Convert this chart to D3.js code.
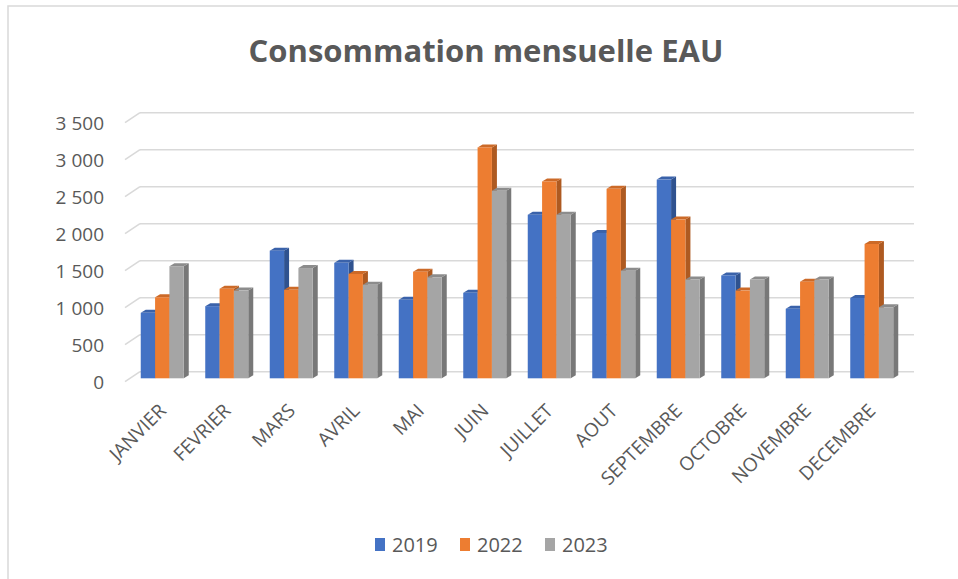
<!DOCTYPE html>
<html>
<head>
<meta charset="utf-8">
<script src="https://cdn.jsdelivr.net/npm/d3@7"></script>
<style>
    body { margin: 0; background: #fff; }
    #chart { width: 958px; height: 579px; }
    text { font-family: "Open Sans", "Noto Sans", sans-serif; fill: #595959; }
</style>
</head>
<body>
<div id="chart"></div>
<script>

const months = ["JANVIER", "FEVRIER", "MARS", "AVRIL", "MAI", "JUIN", "JUILLET", "AOUT", "SEPTEMBRE", "OCTOBRE", "NOVEMBRE", "DECEMBRE"];
const years = ["2019", "2022", "2023"];
const conso2019 = [885, 975, 1725, 1560, 1060, 1155, 2210, 1965, 2685, 1390, 940, 1085];
const conso2022 = [1095, 1210, 1195, 1410, 1440, 3120, 2660, 2560, 2145, 1185, 1305, 1815];
const conso2023 = [1515, 1185, 1490, 1265, 1365, 2535, 2210, 1455, 1335, 1335, 1335, 960];
const yTicks = [0, 500, 1000, 1500, 2000, 2500, 3000, 3500];

const width = 958;
const height = 579;

const colors = {
    "2019": {front: "#4472C4", side: "#2F528F", top: "#3A62AA"},
    "2022": {front: "#ED7D31", side: "#AE5A21", top: "#CC6A28"},
    "2023": {front: "#A5A5A5", side: "#787878", top: "#8C8C8C"}
};

const table = months.map(function(m, i) {
    return {month: m, "2019": conso2019[i], "2022": conso2022[i], "2023": conso2023[i]};
});

const canvas = d3.select("#chart")
    .append("svg")
    .attr("width", width)
    .attr("height", height);

// cadre
canvas.append("path")
    .attr("d", "M8," + height + " L8,6 L" + width + ",6")
    .attr("fill", "none")
    .attr("stroke", "#D9D9D9")
    .attr("stroke-width", 1.5);

canvas.append("text")
    .attr("x", 486)
    .attr("y", 62)
    .attr("text-anchor", "middle")
    .style("font-size", "31px")
    .style("font-weight", "700")
    .text("Consommation mensuelle EAU");

// depth of the 3d look
const wallDx = 15, wallDy = 10;
const barDx = 5, barDy = 3;

const yBack = d3.scaleLinear().domain([0, 3500]).range([371.7, 112.7]);
const yBar = d3.scaleLinear().domain([0, 3500]).range([378.3, 119.3]);

const xScale = d3.scaleBand()
    .domain(months)
    .range([130, 904])
    .paddingInner(1 / 3)
    .paddingOuter(1 / 6);

const xSub = d3.scaleBand()
    .domain(years)
    .range([0, xScale.bandwidth()]);

// grille
const grid = canvas.append("g");
grid.selectAll("line.back")
    .data(yTicks)
    .enter()
    .append("line")
        .attr("class", "back")
        .attr("x1", 125 + wallDx)
        .attr("x2", 914)
        .attr("y1", function(d) { return yBack(d); })
        .attr("y2", function(d) { return yBack(d); })
        .attr("stroke", "#D9D9D9")
        .attr("stroke-width", 1.5);

grid.selectAll("line.side")
    .data(yTicks)
    .enter()
    .append("line")
        .attr("class", "side")
        .attr("x1", 125)
        .attr("x2", 125 + wallDx)
        .attr("y1", function(d) { return yBack(d) + wallDy; })
        .attr("y2", function(d) { return yBack(d); })
        .attr("stroke", "#D9D9D9")
        .attr("stroke-width", 1.5);

const yAxis = canvas.append("g")
    .attr("transform", "translate(104,16.5)")
    .call(d3.axisLeft(yBack).tickValues(yTicks).tickSize(0).tickPadding(0)
        .tickFormat(function(d) { return d3.format(",")(d).replace(",", " "); }));
yAxis.select(".domain").remove();
yAxis.selectAll("text")
    .attr("dy", null)
    .style("font-size", "19px")
    .style("fill", "#595959");

// barres
const groups = canvas.selectAll("g.month")
    .data(table)
    .enter()
    .append("g")
    .attr("class", "month")
    .attr("transform", function(d) { return "translate(" + xScale(d.month) + ",0)"; });

const bars = groups.selectAll("g.bar")
    .data(function(d) { return years.map(function(y) { return {year: y, value: d[y]}; }); })
    .enter()
    .append("g")
    .attr("class", "bar");

bars.append("polygon")
    .attr("points", function(d) {
        const x1 = xSub(d.year) + xSub.bandwidth();
        const t = yBar(d.value), b = yBar(0);
        return [[x1, t], [x1 + barDx, t - barDy], [x1 + barDx, b - barDy], [x1, b]].join(" ");
    })
    .attr("fill", function(d) { return colors[d.year].side; });

bars.append("polygon")
    .attr("points", function(d) {
        const x0 = xSub(d.year), x1 = x0 + xSub.bandwidth();
        const t = yBar(d.value);
        return [[x0, t], [x0 + barDx, t - barDy], [x1 + barDx, t - barDy], [x1, t]].join(" ");
    })
    .attr("fill", function(d) { return colors[d.year].top; });

bars.append("rect")
    .attr("x", function(d) { return xSub(d.year); })
    .attr("y", function(d) { return yBar(d.value); })
    .attr("width", xSub.bandwidth())
    .attr("height", function(d) { return yBar(0) - yBar(d.value); })
    .attr("fill", function(d) { return colors[d.year].front; });

// etiquettes mois
canvas.selectAll("text.month")
    .data(months)
    .enter()
    .append("text")
        .attr("class", "month")
        .attr("text-anchor", "end")
        .attr("transform", function(d) {
            return "translate(" + (xScale(d) + xScale.bandwidth() / 2 + 5) + ",412) rotate(-45)";
        })
        .style("font-size", "19px")
        .text(function(d) { return d; });

// legende
const legend = canvas.selectAll("g.legend")
    .data(years)
    .enter()
    .append("g")
    .attr("class", "legend")
    .attr("transform", function(d, i) { return "translate(" + (375 + i * 85) + ",0)"; });

legend.append("rect")
    .attr("x", 0)
    .attr("y", 538)
    .attr("width", 10)
    .attr("height", 13)
    .attr("fill", function(d) { return colors[d].front; });

legend.append("text")
    .attr("x", 17)
    .attr("y", 551.5)
    .style("font-size", "20px")
    .text(function(d) { return d; });

</script>
</body>
</html>
